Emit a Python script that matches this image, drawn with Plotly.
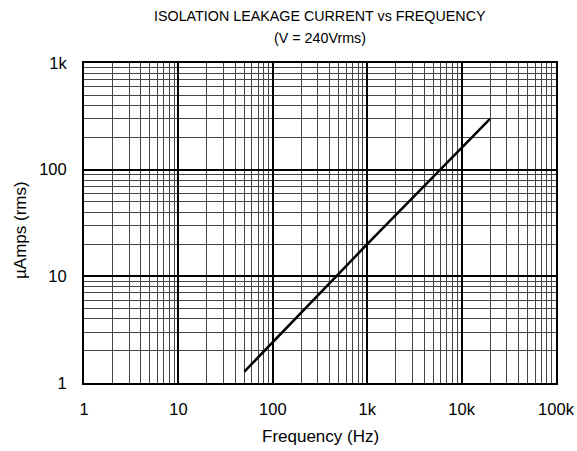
import plotly.graph_objects as go

freq_hz = [50, 1000, 20000]
leak_uA = [1.28, 20, 300]

x_tickvals = [1, 10, 100, 1000, 10000, 100000]
x_ticktext = ["1", "10", "100", "1k", "10k", "100k"]
y_tickvals = [1, 10, 100, 1000]
y_ticktext = ["1", "10", "100", "1k"]

FONT = "Liberation Sans, Arial, sans-serif"

fig = go.Figure()
fig.add_trace(go.Scatter(x=freq_hz, y=leak_uA, mode="lines",
                         line=dict(color="black", width=2.5), showlegend=False))

axis_common = dict(
    showline=True, linecolor="black", linewidth=2, mirror=True,
    showgrid=True, gridcolor="black", gridwidth=2,
    minor=dict(dtick="D1", showgrid=True, gridcolor="#444444", gridwidth=1, ticks=""),
    ticks="", tickfont=dict(family=FONT, size=16.5, color="black"),
    zeroline=False, automargin=False,
)

fig.update_xaxes(type="log", range=[0, 5], tickvals=x_tickvals, ticktext=x_ticktext,
                 ticklabelstandoff=10, **axis_common)
fig.update_yaxes(type="log", range=[0, 3], tickvals=y_tickvals, ticktext=y_ticktext,
                 ticklabelstandoff=12, **axis_common)

fig.update_layout(
    width=577, height=451,
    margin=dict(l=84, r=21, t=63, b=68),
    paper_bgcolor="white", plot_bgcolor="white",
    font=dict(family=FONT, color="black"),
    annotations=[
        dict(text="ISOLATION LEAKAGE CURRENT vs FREQUENCY", xref="paper", yref="paper",
             x=0.5, y=1, yanchor="middle", yshift=47, showarrow=False,
             font=dict(family=FONT, size=14.3)),
        dict(text="(V = 240Vrms)", xref="paper", yref="paper",
             x=0.5, y=1, yanchor="middle", yshift=25.5, showarrow=False,
             font=dict(family=FONT, size=14.3)),
        dict(text="Frequency (Hz)", xref="paper", yref="paper",
             x=0.5, y=0, yanchor="middle", yshift=-53, showarrow=False,
             font=dict(family=FONT, size=17)),
        dict(text="µAmps (rms)", xref="paper", yref="paper", textangle=-90,
             x=0, xanchor="center", xshift=-64, y=0.5, yanchor="middle", yshift=-7,
             showarrow=False, font=dict(family=FONT, size=17)),
    ],
)

# remove the page's default 8px body margin so the figure fills the window exactly
fig.write_html("out.html",
               config={"displayModeBar": False},
               post_script="document.body.style.margin='0';document.body.style.overflow='hidden';")
